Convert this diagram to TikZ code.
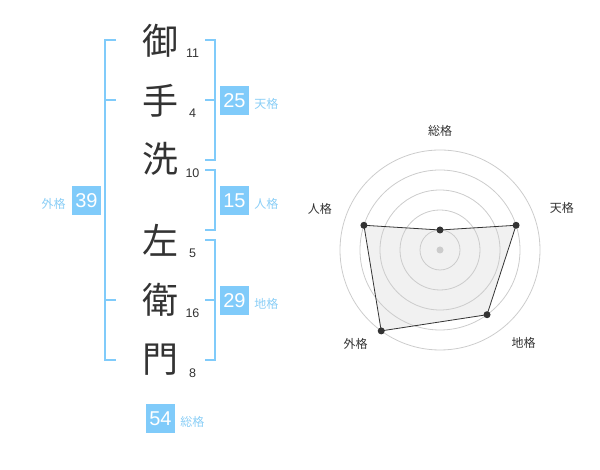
\documentclass[tikz,border=0pt]{standalone}
\usepackage{fontspec}
\setmainfont{Liberation Sans}
\newfontfamily\jpfont{Noto Sans CJK JP}
\definecolor{kakublue}{RGB}{128,203,250}
\definecolor{kakutext}{RGB}{138,206,246}
\definecolor{ringgrey}{RGB}{204,204,204}
\definecolor{chartfill}{RGB}{241,241,241}
\definecolor{inkgrey}{RGB}{51,51,51}
\tikzset{
	kanji/.style={font=\jpfont\fontsize{36}{36}\selectfont, text=inkgrey, inner sep=0pt},
	kakusu/.style={font=\fontsize{12.5}{12.5}\selectfont, text=inkgrey, inner sep=0pt},
	kakubox/.style={fill=kakublue, text=white, minimum size=29pt, inner sep=0pt, font=\fontsize{20}{20}\selectfont},
	kakuname/.style={font=\jpfont\fontsize{12}{12}\selectfont, text=kakutext, inner sep=0pt},
	bracket/.style={draw=kakublue, line width=2pt},
	ring/.style={draw=ringgrey, line width=0.8pt},
	axisname/.style={font=\jpfont\fontsize{12}{12}\selectfont, text=inkgrey, inner sep=0pt},
	datadot/.style={circle, fill=inkgrey, inner sep=0pt, minimum size=7pt},
}
\begin{document}
\begin{tikzpicture}[x=1pt, y=1pt]
		\useasboundingbox (0,0) rectangle (600,470);
		% the name, one character per line, with its stroke counts
		\node [kanji] (c1) at (160,429) {御};
		\node [kanji] (c2) at (160,369) {手};
		\node [kanji] (c3) at (160,311) {洗};
		\node [kanji] (c4) at (160,230) {左};
		\node [kanji] (c5) at (160,170) {衛};
		\node [kanji] (c6) at (160,110) {門};
		\node [kakusu] (n1) at (192.5,417) {11};
		\node [kakusu] (n2) at (192.5,357) {4};
		\node [kakusu] (n3) at (192.5,297) {10};
		\node [kakusu] (n4) at (192.5,217) {5};
		\node [kakusu] (n5) at (192.5,157) {16};
		\node [kakusu] (n6) at (192.5,97) {8};

		% brackets
		\draw [bracket] (116,430) -- (105,430) -- (105,110) -- (116,110);
		\draw [bracket] (105,370) -- (116,370);
		\draw [bracket] (105,170) -- (116,170);
		\draw [bracket] (205,430) -- (214.5,430) -- (214.5,310) -- (205,310);
		\draw [bracket] (205,370) -- (214.5,370);
		\draw [bracket] (205,300) -- (214.5,300) -- (214.5,240) -- (205,240);
		\draw [bracket] (205,230) -- (214.5,230) -- (214.5,110) -- (205,110);
		\draw [bracket] (205,170) -- (214.5,170);

		% the five totals
		\node [kakubox] (ten) at (234.5,369.5) {25};
		\node [kakuname, anchor=west, xshift=5pt, yshift=-3pt] (tenl) at (ten.east) {天格};
		\node [kakubox] (jin) at (234.5,269.5) {15};
		\node [kakuname, anchor=west, xshift=5pt, yshift=-3pt] (jinl) at (jin.east) {人格};
		\node [kakubox] (chi) at (234.5,169.5) {29};
		\node [kakuname, anchor=west, xshift=5pt, yshift=-3pt] (chil) at (chi.east) {地格};
		\node [kakubox] (gai) at (86.5,269.5) {39};
		\node [kakuname, anchor=east, xshift=-6pt, yshift=-3pt] (gail) at (gai.west) {外格};
		\node [kakubox] (sou) at (160.5,51) {54};
		\node [kakuname, anchor=west, xshift=5pt, yshift=-3pt] (soul) at (sou.east) {総格};

		% radar chart
		\begin{scope}[shift={(440,220)}]
			\coordinate (psou) at (90:20);
			\coordinate (pten) at (18:80);
			\coordinate (pchi) at (-54:80);
			\coordinate (pgai) at (-126:100);
			\coordinate (pjin) at (162:80);
			\fill [chartfill] (psou) -- (pten) -- (pchi) -- (pgai) -- (pjin) -- cycle;
			\foreach \r in {20,40,60,80,100}
				\draw [ring] (0,0) circle (\r pt);
			\node [circle, fill=ringgrey, inner sep=0pt, minimum size=7pt] (origin) at (0,0) {};
			\draw [inkgrey, line width=0.8pt] (psou) -- (pten) -- (pchi) -- (pgai) -- (pjin) -- cycle;
			\node [datadot] (dsou) at (psou) {};
			\node [datadot] (dten) at (pten) {};
			\node [datadot] (dchi) at (pchi) {};
			\node [datadot] (dgai) at (pgai) {};
			\node [datadot] (djin) at (pjin) {};
			\node [axisname] (asou) at (90:119) {総格};
			\node [axisname] (aten) at (19:129) {天格};
			\node [axisname] (achi) at (-48:125) {地格};
			\node [axisname] (agai) at (-132:126) {外格};
			\node [axisname] (ajin) at (161:127) {人格};
		\end{scope}
	\end{tikzpicture}
\end{document}
